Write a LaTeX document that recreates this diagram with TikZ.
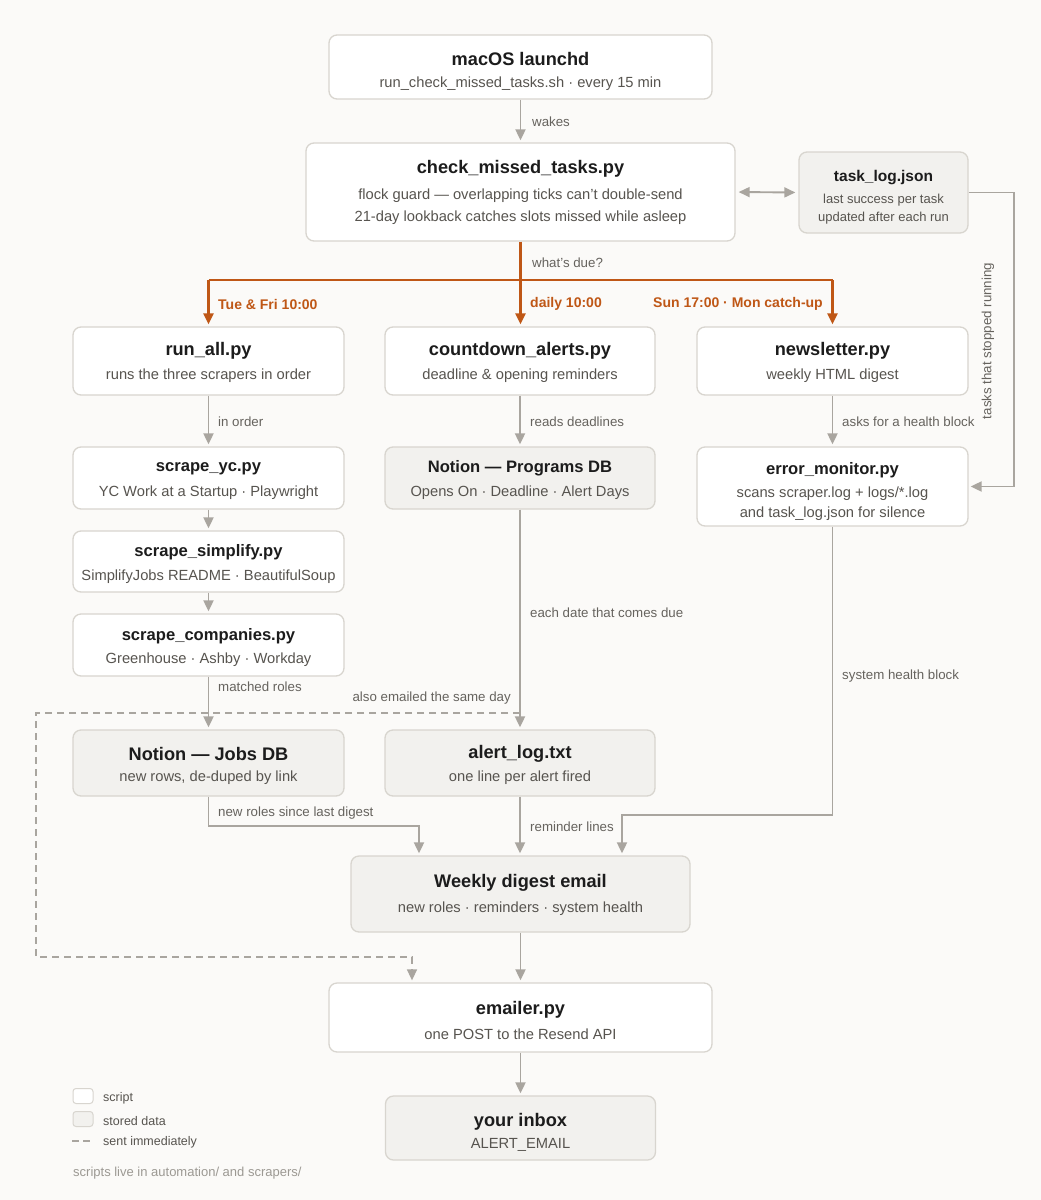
\documentclass[tikz,border=0pt]{standalone}
\usepackage{fontspec}
\setmainfont{Liberation Sans}
\usetikzlibrary{arrows.meta}
\definecolor{bg}{HTML}{FBFAF8}
\definecolor{bordc}{HTML}{D8D5CF}
\definecolor{storec}{HTML}{F2F1EE}
\definecolor{linec}{HTML}{A9A59F}
\definecolor{orangec}{HTML}{BF5716}
\definecolor{titlec}{HTML}{1C1C1C}
\definecolor{subc}{HTML}{57544F}
\definecolor{labc}{HTML}{66635E}
\definecolor{footc}{HTML}{9C9993}
\tikzset{
  basebox/.style={draw=bordc, line width=1.3pt, rounded corners=8pt, inner sep=0pt},
  scriptbox/.style={basebox, fill=white},
  storebox/.style={basebox, fill=storec},
  ttl/.style={inner sep=0pt, yshift=-1.5pt, text=titlec, font=\fontsize{18.2}{21}\selectfont\bfseries},
  ttlsm/.style={ttl, font=\fontsize{16.6}{19}\selectfont\bfseries},
  sub/.style={inner sep=0pt, yshift=-2pt, text=subc, font=\fontsize{14.7}{17}\selectfont},
  lab/.style={inner sep=0pt, anchor=west, yshift=-1pt, text=labc, font=\fontsize{13.3}{15}\selectfont},
  olab/.style={inner sep=0pt, yshift=-1pt, text=orangec, font=\fontsize{14}{16}\selectfont\bfseries},
  tipa/.style={-{Triangle[length=11pt,width=10pt]}},
  conn/.style={draw=linec, line width=1.9pt, tipa, shorten >=2pt},
  oconn/.style={draw=orangec, line width=2.2pt, tipa, shorten >=2pt},
  oplain/.style={draw=orangec, line width=2.2pt},
  dashconn/.style={draw=linec, line width=1.6pt, dash pattern=on 7pt off 5pt, tipa, shorten >=2pt},
}
\begin{document}
\begin{tikzpicture}[x=1pt,y=-1pt]
\useasboundingbox (0,0) rectangle (1041,1200);
\fill[bg] (0,0) rectangle (1041,1200);

% launchd
\node[scriptbox, minimum width=383pt, minimum height=64pt] (launchd) at (520.5,67) {};
\node[ttl] (launchdT) at (520.5,57) {macOS launchd};
\node[sub] (launchdS) at (520.5,82) {run\_check\_missed\_tasks.sh · every 15 min};

% check
\node[scriptbox, minimum width=429pt, minimum height=98pt] (check) at (520.5,192) {};
\node[ttl] (checkT) at (520.5,167) {check\_missed\_tasks.py};
\node[sub] (checkS1) at (520.5,194) {flock guard — overlapping ticks can't double-send};
\node[sub] (checkS2) at (520.5,216) {21-day lookback catches slots missed while asleep};

% task_log
\node[storebox, minimum width=169pt, minimum height=81pt] (tasklog) at (883.5,192.5) {};
\node[ttl, font=\fontsize{15.5}{18}\selectfont\bfseries] (tasklogT) at (883.5,176) {task\_log.json};
\node[sub, font=\fontsize{13}{15}\selectfont] (tasklogS1) at (883.5,198) {last success per task};
\node[sub, font=\fontsize{13}{15}\selectfont] (tasklogS2) at (883.5,216) {updated after each run};

% row 1
\node[scriptbox, minimum width=271pt, minimum height=68pt] (runall) at (208.5,361) {};
\node[ttl] (runallT) at (208.5,349) {run\_all.py};
\node[sub] (runallS) at (208.5,374) {runs the three scrapers in order};

\node[scriptbox, minimum width=270pt, minimum height=68pt] (countdown) at (520,361) {};
\node[ttl] (countdownT) at (520,349) {countdown\_alerts.py};
\node[sub] (countdownS) at (520,374) {deadline \& opening reminders};

\node[scriptbox, minimum width=271pt, minimum height=68pt] (news) at (832.5,361) {};
\node[ttl] (newsT) at (832.5,349) {newsletter.py};
\node[sub] (newsS) at (832.5,374) {weekly HTML digest};

% row 2
\node[scriptbox, minimum width=271pt, minimum height=62pt] (yc) at (208.5,478) {};
\node[ttlsm] (ycT) at (208.5,467) {scrape\_yc.py};
\node[sub] (ycS) at (208.5,491) {YC Work at a Startup · Playwright};

\node[storebox, minimum width=270pt, minimum height=62pt] (programs) at (520,478) {};
\node[ttlsm] (programsT) at (520,467) {Notion — Programs DB};
\node[sub] (programsS) at (520,491) {Opens On · Deadline · Alert Days};

\node[scriptbox, minimum width=271pt, minimum height=79pt] (errmon) at (832.5,486.5) {};
\node[ttlsm] (errmonT) at (832.5,469) {error\_monitor.py};
\node[sub] (errmonS1) at (832.5,492) {scans scraper.log + logs/*.log};
\node[sub] (errmonS2) at (832.5,512) {and task\_log.json for silence};

\node[scriptbox, minimum width=271pt, minimum height=61pt] (simplify) at (208.5,561.5) {};
\node[ttlsm] (simplifyT) at (208.5,551) {scrape\_simplify.py};
\node[sub] (simplifyS) at (208.5,575) {SimplifyJobs README · BeautifulSoup};

\node[scriptbox, minimum width=271pt, minimum height=62pt] (companies) at (208.5,645) {};
\node[ttlsm] (companiesT) at (208.5,635) {scrape\_companies.py};
\node[sub] (companiesS) at (208.5,658) {Greenhouse · Ashby · Workday};

% row stores
\node[storebox, minimum width=271pt, minimum height=66pt] (jobs) at (208.5,763) {};
\node[ttl] (jobsT) at (208.5,752) {Notion — Jobs DB};
\node[sub] (jobsS) at (208.5,776) {new rows, de-duped by link};

\node[storebox, minimum width=270pt, minimum height=66pt] (alertlog) at (520,763) {};
\node[ttl] (alertlogT) at (520,752) {alert\_log.txt};
\node[sub] (alertlogS) at (520,776) {one line per alert fired};

% weekly
\node[storebox, minimum width=339pt, minimum height=76pt] (weekly) at (520.5,894) {};
\node[ttl] (weeklyT) at (520.5,881) {Weekly digest email};
\node[sub] (weeklyS) at (520.5,907) {new roles · reminders · system health};

% emailer
\node[scriptbox, minimum width=383pt, minimum height=69pt] (emailer) at (520.5,1017.5) {};
\node[ttl] (emailerT) at (520.5,1008) {emailer.py};
\node[sub] (emailerS) at (520.5,1032) {one POST to the Resend API};

% inbox
\node[storebox, minimum width=270pt, minimum height=64pt] (inbox) at (520.5,1128) {};
\node[ttl] (inboxT) at (520.5,1120) {your inbox};
\node[sub] (inboxS) at (520.5,1143) {ALERT\_EMAIL};

% connectors
\draw[conn] (launchd.south) -- (check.north);
\node[lab] (wakesL) at (532,121) {wakes};

\draw[draw=linec, line width=1.9pt, {Triangle[length=11pt,width=10pt]}-{Triangle[length=11pt,width=10pt]}, shorten >=3pt, shorten <=3pt] (check.east) -- (tasklog.west);

\coordinate (tl1) at (1014,192.5);
\draw[conn] (tasklog.east) -- (tl1) |- (errmon.east);
\node[lab, anchor=center, rotate=90, yshift=0pt] (stopL) at (988,340) {tasks that stopped running};

% orange fan
\coordinate (ob1) at (208.5,280);
\coordinate (ob2) at (520.5,280);
\coordinate (ob3) at (832.5,280);
\draw[oplain] (check.south) -- (ob2);
\draw[oplain] (ob1) -- (ob3);
\draw[oconn] (ob1) -- (runall.north);
\draw[oconn] (ob2) -- (countdown.north -| ob2);
\draw[oconn] (ob3) -- (news.north);
\node[lab] (dueL) at (532,262) {what's due?};
\node[olab, anchor=west] (tueL) at (218,303) {Tue \& Fri 10:00};
\node[olab, anchor=west] (dailyL) at (530,303) {daily 10:00};
\node[olab, anchor=east] (sunL) at (823,303) {Sun 17:00 · Mon catch-up};

% left column
\draw[conn] (runall.south) -- (yc.north);
\node[lab] (orderL) at (218,421) {in order};
\draw[conn] (yc.south) -- (simplify.north);
\draw[conn] (simplify.south) -- (companies.north);
\draw[conn] (companies.south) -- (jobs.north);
\node[lab] (matchedL) at (218,686) {matched roles};

% middle column
\draw[conn] (countdown.south) -- (programs.north);
\node[lab] (readsL) at (530,421) {reads deadlines};
\draw[conn] (programs.south) -- (alertlog.north);
\node[lab] (eachL) at (530,612) {each date that comes due};

% right column
\draw[conn] (news.south) -- (errmon.north);
\node[lab] (asksL) at (842,421) {asks for a health block};

% dashed sent immediately
\coordinate (d0) at (520,713);
\coordinate (d1) at (36,713);
\coordinate (d2) at (36,957);
\coordinate (d3) at (412,957);
\draw[dashconn] (d0) -- (d1) -- (d2) -- (d3) -- (d3 |- emailer.north);
\node[lab, anchor=east] (sameL) at (511,697) {also emailed the same day};

% into weekly
\coordinate (j1) at (419,826);
\draw[conn] (jobs.south) |- (j1) -- (j1 |- weekly.north);
\node[lab] (newL) at (218,812) {new roles since last digest};
\draw[conn] (alertlog.south) -- (alertlog.south |- weekly.north);
\node[lab] (remL) at (530,826) {reminder lines};
\coordinate (e1) at (622,815);
\draw[conn] (errmon.south) |- (e1) -- (e1 |- weekly.north);
\node[lab] (healthL) at (842,675) {system health block};

\draw[conn] (weekly.south) -- (emailer.north);
\draw[conn] (emailer.south) -- (inbox.north);

% legend
\node[scriptbox, rounded corners=3pt, line width=1pt, minimum width=20pt, minimum height=15pt] (legS) at (83,1096) {};
\node[storebox, rounded corners=3pt, line width=1pt, minimum width=20pt, minimum height=15pt] (legD) at (83,1119) {};
\coordinate (lg1) at (72,1141);
\coordinate (lg2) at (90,1141);
\draw[draw=linec, line width=1.6pt, dash pattern=on 7pt off 4pt] (lg1) -- (lg2);
\node[lab, text=subc, font=\fontsize{12.5}{15}\selectfont] (legST) at (103,1097) {script};
\node[lab, text=subc, font=\fontsize{12.5}{15}\selectfont] (legDT) at (103,1120) {stored data};
\node[lab, text=subc, font=\fontsize{12.5}{15}\selectfont] (legLT) at (103,1141) {sent immediately};
\node[lab, text=footc, font=\fontsize{13}{15}\selectfont] (footT) at (73,1172) {scripts live in automation/ and scrapers/};
\end{tikzpicture}
\end{document}
